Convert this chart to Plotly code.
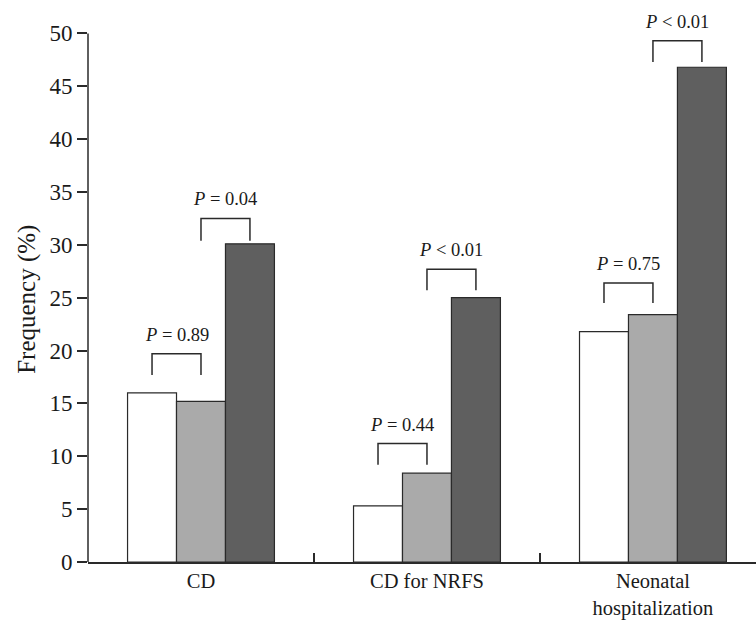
import plotly.graph_objects as go

categories = ["CD", "CD for NRFS", "Neonatal<br>hospitalization"]
series_white = [16.0, 5.3, 21.8]
series_light = [15.2, 8.4, 23.4]
series_dark = [30.1, 25.0, 46.8]
y_ticks = [0, 5, 10, 15, 20, 25, 30, 35, 40, 45, 50]
y_title = "Frequency (%)"

# comparison brackets: category index, first series index, second series index
bracket_cat = [0, 0, 1, 1, 2, 2]
bracket_from = [0, 1, 0, 1, 0, 1]
bracket_to = [1, 2, 1, 2, 1, 2]
bracket_top = [19.7, 32.5, 11.2, 27.7, 26.4, 49.3]
bracket_leg = [2.0, 2.1, 2.0, 2.0, 1.9, 2.0]
p_labels = ["<i>P</i> = 0.89", "<i>P</i> = 0.04", "<i>P</i> = 0.44",
            "<i>P</i> &lt; 0.01", "<i>P</i> = 0.75", "<i>P</i> &lt; 0.01"]

FONT = "Liberation Serif"
AX = "#2a2a2a"
TXT = "#1a1a1a"
xs = list(range(len(categories)))
boundaries = [i + 0.5 for i in xs[:-1]]
bargap = 0.35
bw = (1 - bargap) / 3
offsets = [-bw, 0, bw]
xrange_ = [-0.5, 2.456]

fig = go.Figure()
for vals, col in [(series_white, "#ffffff"), (series_light, "#aaaaaa"), (series_dark, "#5f5f5f")]:
    fig.add_trace(go.Bar(x=xs, y=vals, marker=dict(color=col, line=dict(color=AX, width=1.2)),
                         showlegend=False, hoverinfo="skip"))

for c, a, b, top, leg, lab in zip(bracket_cat, bracket_from, bracket_to, bracket_top, bracket_leg, p_labels):
    x0 = c + offsets[a]
    x1 = c + offsets[b]
    fig.add_trace(go.Scatter(x=[x0, x0, x1, x1], y=[top - leg, top, top, top - leg], mode="lines",
                             line=dict(color=AX, width=1.5), showlegend=False, hoverinfo="skip"))
    fig.add_annotation(x=(x0 + x1) / 2, y=top + 1.8, text=lab, showarrow=False,
                       font=dict(family=FONT, size=18.5, color=TXT), yanchor="middle")

# invisible trace on the boundary-tick axis so it is drawn
fig.add_trace(go.Scatter(x=[xrange_[0]], y=[0], xaxis="x2", mode="markers",
                         marker=dict(opacity=0), showlegend=False, hoverinfo="skip"))

# y axis line from 0 to 50
fig.add_shape(type="line", xref="paper", yref="y", x0=0, x1=0, y0=0, y1=50,
              line=dict(color=AX, width=1.5))

# y axis title
fig.add_annotation(xref="paper", yref="y", x=0, y=24.8, xshift=-61, text=y_title,
                   textangle=-90, showarrow=False, xanchor="center", yanchor="middle",
                   font=dict(family=FONT, size=25, color=TXT))

fig.update_layout(
    width=756, height=631,
    margin=dict(l=88, r=0, t=7, b=69),
    plot_bgcolor="white", paper_bgcolor="white",
    barmode="group", bargap=bargap, bargroupgap=0,
    font=dict(family=FONT, color=TXT),
    xaxis2=dict(overlaying="x", anchor="y", side="bottom", range=xrange_, tickvals=boundaries,
                ticktext=["" for _ in boundaries], ticks="inside", ticklen=9, tickcolor=AX,
                tickwidth=1.5, showgrid=False, zeroline=False, showline=False),
)
fig.layout.xaxis.update(range=xrange_, tickvals=xs, ticktext=categories, tickmode="array",
                        ticks="", showline=True, linecolor=AX, linewidth=1.5, showgrid=False,
                        zeroline=False, tickfont=dict(family=FONT, size=20.5, color=TXT))
fig.update_yaxes(range=[0, 52.5], tickvals=y_ticks, ticks="outside", ticklen=10, tickcolor=AX,
                 tickwidth=1.5, showline=False, showgrid=False, zeroline=False,
                 tickfont=dict(family=FONT, size=23, color=TXT))

fig.write_html("out.html")
